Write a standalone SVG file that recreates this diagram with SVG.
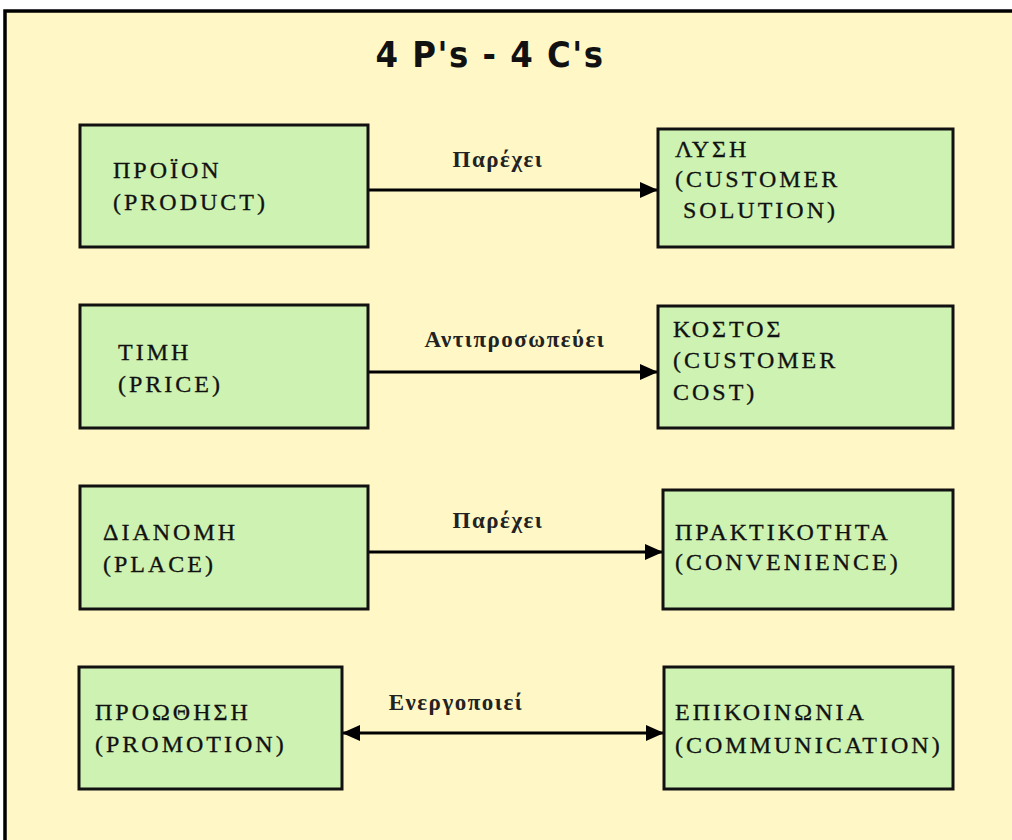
<svg xmlns="http://www.w3.org/2000/svg" width="1012" height="840" viewBox="0 0 1012 840">
  <defs>
    <marker id="head" viewBox="0 0 18 16" refX="18" refY="8" markerWidth="18" markerHeight="16" markerUnits="userSpaceOnUse" orient="auto-start-reverse">
      <path d="M0,0 L18,8 L0,16 Z" fill="#000"/>
    </marker>
    <style>
      .frame { fill: #FFF8C6; stroke: #000; stroke-width: 3.5; }
      .box { fill: #CDF2B2; stroke: #111; stroke-width: 3; }
      .title { font-family: "DejaVu Sans Condensed", "DejaVu Sans", sans-serif; font-weight: bold; font-size: 36px; letter-spacing: 1.5px; fill: #111; }
      .txt { font-family: "Liberation Serif", "DejaVu Serif", serif; font-size: 24px; letter-spacing: 3px; fill: #111; stroke: #111; stroke-width: 0.3; }
      .lbl { font-family: "Liberation Serif", "DejaVu Serif", serif; font-weight: bold; font-size: 23px; letter-spacing: 1.5px; fill: #222; text-anchor: middle; }
      .wire { stroke: #000; stroke-width: 3; fill: none; }
    </style>
  </defs>

  <rect x="0" y="0" width="1012" height="840" fill="#FFFFFF"/>
  <rect class="frame" x="5" y="11" width="1020" height="840"/>

  <text class="title" x="490" y="67" text-anchor="middle">4 P's - 4 C's</text>

  <g id="connectors">
    <line class="wire" x1="368" y1="190" x2="658" y2="190" marker-end="url(#head)"/>
    <text class="lbl" x="498" y="167">Παρέχει</text>
    <line class="wire" x1="368" y1="372" x2="658" y2="372" marker-end="url(#head)"/>
    <text class="lbl" x="515" y="347">Αντιπροσωπεύει</text>
    <line class="wire" x1="368" y1="552" x2="663" y2="552" marker-end="url(#head)"/>
    <text class="lbl" x="498" y="528">Παρέχει</text>
    <line class="wire" x1="342" y1="733" x2="664" y2="733" marker-start="url(#head)" marker-end="url(#head)"/>
    <text class="lbl" x="456" y="710">Ενεργοποιεί</text>
  </g>

  <g id="product">
    <rect class="box" x="80" y="125" width="288" height="122"/>
    <text class="txt" x="113" y="178">ΠΡΟΪΟΝ</text>
    <text class="txt" x="113" y="210">(PRODUCT)</text>
  </g>
  <g id="solution">
    <rect class="box" x="658" y="129" width="295" height="118"/>
    <text class="txt" x="675" y="157">ΛΥΣΗ</text>
    <text class="txt" x="675" y="187">(CUSTOMER</text>
    <text class="txt" x="683" y="218">SOLUTION)</text>
  </g>

  <g id="price">
    <rect class="box" x="80" y="305" width="288" height="123"/>
    <text class="txt" x="118" y="360">ΤΙΜΗ</text>
    <text class="txt" x="118" y="392">(PRICE)</text>
  </g>
  <g id="cost">
    <rect class="box" x="658" y="306" width="295" height="122"/>
    <text class="txt" x="673" y="337">ΚΟΣΤΟΣ</text>
    <text class="txt" x="673" y="368">(CUSTOMER</text>
    <text class="txt" x="673" y="400">COST)</text>
  </g>

  <g id="place">
    <rect class="box" x="80" y="486" width="288" height="123"/>
    <text class="txt" x="103" y="540">ΔΙΑΝΟΜΗ</text>
    <text class="txt" x="103" y="572">(PLACE)</text>
  </g>
  <g id="convenience">
    <rect class="box" x="663" y="490" width="290" height="119"/>
    <text class="txt" x="675" y="540">ΠΡΑΚΤΙΚΟΤΗΤΑ</text>
    <text class="txt" x="675" y="570">(CONVENIENCE)</text>
  </g>

  <g id="promotion">
    <rect class="box" x="79" y="667" width="263" height="122"/>
    <text class="txt" x="95" y="720">ΠΡΟΩΘΗΣΗ</text>
    <text class="txt" x="95" y="752">(PROMOTION)</text>
  </g>
  <g id="communication">
    <rect class="box" x="664" y="667" width="289" height="122"/>
    <text class="txt" x="675" y="720">ΕΠΙΚΟΙΝΩΝΙΑ</text>
    <text class="txt" x="675" y="753">(COMMUNICATION)</text>
  </g>
</svg>
